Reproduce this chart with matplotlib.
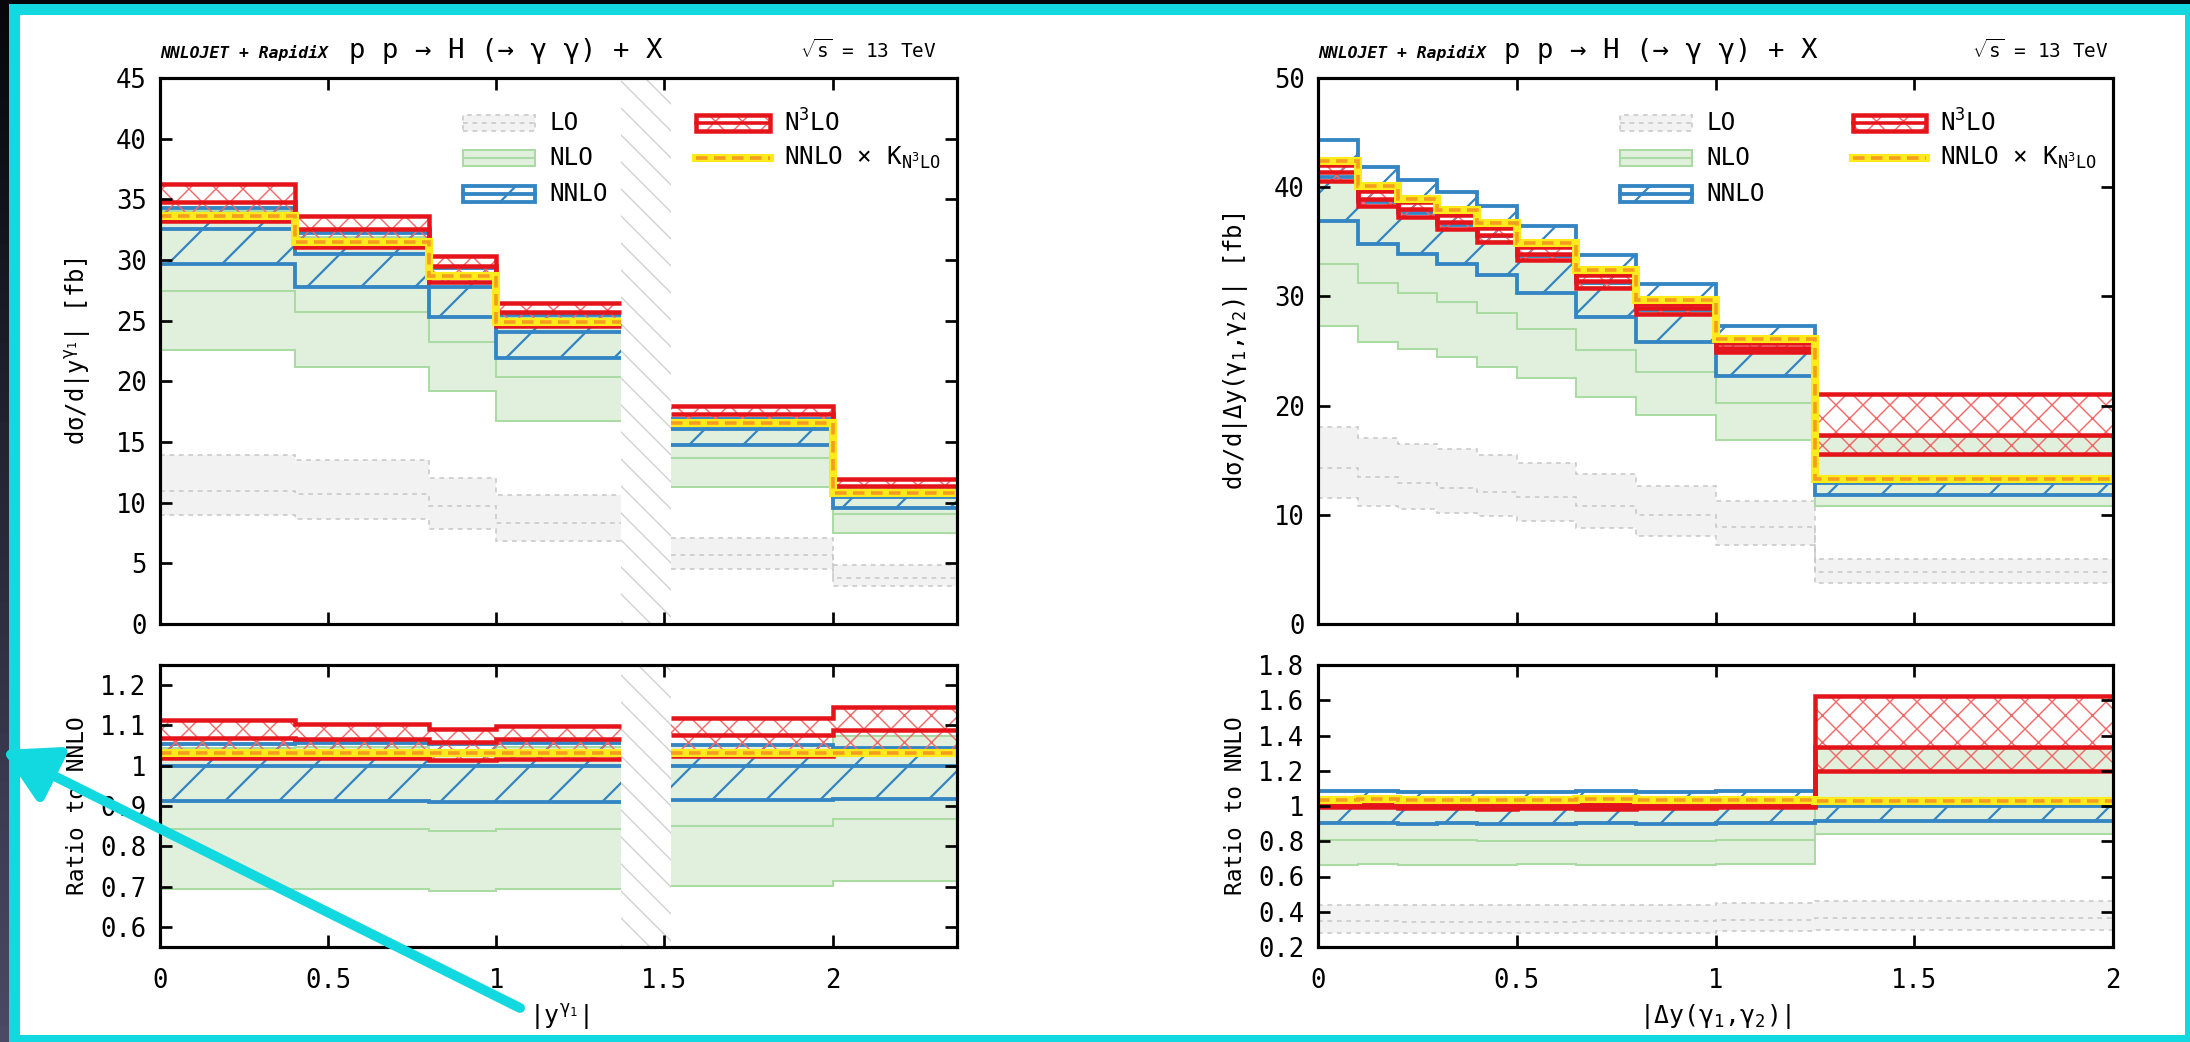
import numpy as np
import matplotlib
matplotlib.use("Agg")
import matplotlib.pyplot as plt
from matplotlib.patches import Rectangle, FancyArrowPatch
from matplotlib.ticker import FixedLocator, FuncFormatter
from matplotlib.colors import LinearSegmentedColormap

# ---------------- data: |y^gamma1| (left) ----------------
y1_bin_lo = [0.0, 0.4, 0.8, 1.0, 1.52, 2.0]
y1_bin_hi = [0.4, 0.8, 1.0, 1.37, 2.0, 2.37]
y1_gap = [1.37, 1.52]

y1_lo_up = [13.93, 13.55, 12.06, 10.6, 7.07, 4.87]
y1_lo_c = [11.0, 10.7, 9.7, 8.35, 5.65, 3.79]
y1_lo_dn = [8.95, 8.65, 7.8, 6.8, 4.5, 3.17]
y1_nlo_up = [34.0, 31.9, 28.9, 25.2, 16.9, 11.25]
y1_nlo_c = [27.47, 25.71, 23.28, 20.32, 13.68, 9.09]
y1_nlo_dn = [22.62, 21.2, 19.19, 16.75, 11.26, 7.48]
y1_nnlo_up = [34.3, 32.2, 29.32, 25.45, 16.92, 10.94]
y1_nnlo_c = [32.55, 30.5, 27.81, 24.1, 16.08, 10.47]
y1_nnlo_dn = [29.7, 27.8, 25.3, 21.95, 14.72, 9.6]
y1_n3lo_up = [36.23, 33.64, 30.31, 26.46, 17.98, 11.99]
y1_n3lo_c = [34.76, 32.54, 29.48, 25.69, 17.30, 11.39]
y1_n3lo_dn = [33.2, 31.11, 28.17, 24.53, 16.47, 10.78]
y1_nnlo_k = [33.59, 31.48, 28.7, 24.87, 16.59, 10.81]

# ---------------- data: |Delta y(gamma1, gamma2)| (right) ----------------
dy_bin_lo = [0.0, 0.1, 0.2, 0.3, 0.4, 0.5, 0.65, 0.8, 1.0, 1.25]
dy_bin_hi = [0.1, 0.2, 0.3, 0.4, 0.5, 0.65, 0.8, 1.0, 1.25, 2.0]

dy_lo_up = [18.04, 17.0, 16.5, 16.06, 15.5, 14.73, 13.76, 12.68, 11.3, 5.95]
dy_lo_c = [14.28, 13.5, 12.95, 12.5, 12.1, 11.6, 10.85, 9.95, 8.85, 4.72]
dy_lo_dn = [11.5, 10.85, 10.5, 10.2, 9.9, 9.4, 8.8, 8.1, 7.26, 3.8]
dy_nlo_up = [40.5, 38.2, 37.3, 36.2, 35.1, 33.3, 30.9, 28.5, 24.9, 17.12]
dy_nlo_c = [32.97, 31.2, 30.3, 29.47, 28.46, 27.0, 25.09, 23.04, 20.25, 15.4]
dy_nlo_dn = [27.3, 25.85, 25.15, 24.42, 23.56, 22.5, 20.8, 19.12, 16.88, 10.85]
dy_nnlo_up = [44.3, 41.85, 40.7, 39.55, 38.26, 36.43, 33.82, 31.13, 27.27, 13.0]
dy_nnlo_c = [40.9, 38.6, 37.65, 36.58, 35.5, 33.67, 31.22, 28.77, 25.15, 12.93]
dy_nnlo_dn = [36.9, 34.8, 33.9, 33.0, 31.92, 30.3, 28.15, 25.85, 22.7, 11.83]
dy_n3lo_up = [42.0, 39.65, 38.6, 37.5, 36.28, 34.5, 31.92, 29.29, 25.7, 21.02]
dy_n3lo_c = [41.4, 38.9, 37.96, 36.8, 35.66, 33.9, 31.37, 28.92, 25.3, 17.28]
dy_n3lo_dn = [40.6, 38.3, 37.3, 36.18, 34.95, 33.3, 30.76, 28.4, 24.94, 15.53]
dy_nnlo_k = [42.4, 40.1, 38.9, 37.87, 36.74, 34.9, 32.38, 29.69, 26.07, 13.32]

# ---------------- axis ticks / labels ----------------
y1_xticks = [0, 0.5, 1, 1.5, 2]
dy_xticks = [0, 0.5, 1, 1.5, 2]
y1_top_yticks = [0, 5, 10, 15, 20, 25, 30, 35, 40, 45]
dy_top_yticks = [0, 10, 20, 30, 40, 50]
y1_ratio_yticks = [0.6, 0.7, 0.8, 0.9, 1.0, 1.1, 1.2]
dy_ratio_yticks = [0.2, 0.4, 0.6, 0.8, 1.0, 1.2, 1.4, 1.6, 1.8]
legend_labels = ["LO", "NLO", "NNLO", r"N$^{3}$LO", r"NNLO × K$_{\mathrm{N^{3}LO}}$"]

# ---------------- styling ----------------
W, H, DPI = 2190, 1042, 324
plt.rcParams.update({
    "font.family": ["DejaVu Sans Mono", "DejaVu Sans"],
    "mathtext.fontset": "custom",
    "mathtext.rm": "DejaVu Sans Mono",
    "mathtext.it": "DejaVu Sans Mono:italic",
    "mathtext.bf": "DejaVu Sans Mono:bold",
    "mathtext.sf": "DejaVu Sans Mono",
    "hatch.linewidth": 0.4,
})

LO_FILL, LO_LINE = "#f2f2f2", "#c8c8c8"
NLO_FILL, NLO_LINE = "#e1f0dc", "#a9dba2"
BLUE = "#3485c3"
RED, RED_H = "#e5141b", "#f06a6a"
YEL, ORA = "#ffea1c", "#f59d1e"
GAP = "#cfcfcf"
CYAN = "#12d9e0"

H_NNLO = "//"
H_N3LO = "xxxx"
H_GAP = "\\\\\\\\"


def set_hlw(artist, lw):
    if hasattr(artist, "set_hatch_linewidth"):
        artist.set_hatch_linewidth(lw)


def segments(blo, bhi):
    segs, start = [], 0
    for i in range(1, len(blo) + 1):
        if i == len(blo) or not np.isclose(blo[i], bhi[i - 1]):
            segs.append((start, i))
            start = i
    return segs


def draw_data(ax, blo, bhi, d, ratio):
    ref = np.asarray(d["nnlo"][1], float)
    for s, e in segments(blo, bhi):
        edges = list(blo[s:e]) + [bhi[e - 1]]

        def v(a):
            a = np.asarray(a, float)[s:e]
            return a / ref[s:e] if ratio else a

        up, c, dn = d["lo"]
        ax.stairs(v(up), edges, baseline=v(dn), fill=True, facecolor=LO_FILL,
                  edgecolor="none", lw=0, zorder=1)
        for arr in (up, c, dn):
            ax.stairs(v(arr), edges, baseline=None, edgecolor=LO_LINE, lw=0.35,
                      linestyle=(0, (3, 3)), zorder=1.2)
        up, c, dn = d["nlo"]
        ax.stairs(v(up), edges, baseline=v(dn), fill=True, facecolor=NLO_FILL,
                  edgecolor="none", lw=0, zorder=1.5)
        for arr in (up, c, dn):
            ax.stairs(v(arr), edges, baseline=None, edgecolor=NLO_LINE, lw=0.45, zorder=1.7)
        up, c, dn = d["nnlo"]
        p = ax.stairs(v(up), edges, baseline=v(dn), fill=True, facecolor="none",
                      edgecolor=BLUE, hatch=H_NNLO, lw=0, zorder=3)
        set_hlw(p, 0.5)
        for arr in (up, c, dn):
            ax.stairs(v(arr), edges, baseline=None, edgecolor=BLUE, lw=0.85, zorder=3.5)
        up, c, dn = d["n3lo"]
        p = ax.stairs(v(up), edges, baseline=v(dn), fill=True, facecolor="none",
                      edgecolor=RED_H, hatch=H_N3LO, lw=0, zorder=4)
        set_hlw(p, 0.32)
        for arr in (up, c, dn):
            ax.stairs(v(arr), edges, baseline=None, edgecolor=RED, lw=1.0, zorder=4.5)
        k = d["k"]
        ax.stairs(v(k), edges, baseline=None, edgecolor=YEL, lw=1.8, zorder=5)
        ax.stairs(v(k), edges, baseline=None, edgecolor=ORA, lw=0.8,
                  linestyle=(0, (3.2, 1.8)), zorder=5.1)


fmt = FuncFormatter(lambda val, pos: f"{round(val, 3):g}")


def style_axes(ax, xlim, ylim, xticks, yticks, show_x):
    ax.set_xlim(xlim)
    ax.set_ylim(ylim)
    ax.xaxis.set_major_locator(FixedLocator(xticks))
    ax.yaxis.set_major_locator(FixedLocator(yticks))
    ax.xaxis.set_major_formatter(fmt)
    ax.yaxis.set_major_formatter(fmt)
    ax.tick_params(direction="in", top=True, right=True, length=2.7, width=0.6,
                   labelsize=5.7, pad=3)
    ax.tick_params(axis="x", pad=4.6, labelbottom=show_x)
    for sp in ax.spines.values():
        sp.set_linewidth(0.7)
        sp.set_zorder(10)
    ax.xaxis.set_zorder(10)
    ax.yaxis.set_zorder(10)


def draw_legend(ax):
    x1a, x1b, t1 = 0.380, 0.471, 0.489
    x2a, x2b, t2 = 0.673, 0.765, 0.783
    rows = [0.918, 0.853, 0.788]
    h = 0.029
    tr = ax.transAxes
    kw = dict(transform=tr, clip_on=False)
    # LO
    yc = rows[0]
    ax.add_patch(Rectangle((x1a, yc - h / 2), x1b - x1a, h, facecolor=LO_FILL, edgecolor=LO_LINE,
                           lw=0.35, ls=(0, (3, 3)), zorder=6, **kw))
    ax.plot([x1a, x1b], [yc, yc], color=LO_LINE, lw=0.35, ls=(0, (3, 3)), zorder=6, **kw)
    # NLO
    yc = rows[1]
    ax.add_patch(Rectangle((x1a, yc - h / 2), x1b - x1a, h, facecolor=NLO_FILL, edgecolor=NLO_LINE,
                           lw=0.45, zorder=6, **kw))
    ax.plot([x1a, x1b], [yc, yc], color=NLO_LINE, lw=0.45, zorder=6, **kw)
    # NNLO
    yc = rows[2]
    p = Rectangle((x1a, yc - h / 2), x1b - x1a, h, facecolor="none", edgecolor=BLUE,
                  hatch=H_NNLO, lw=0, zorder=6, **kw)
    set_hlw(p, 0.5)
    ax.add_patch(p)
    ax.add_patch(Rectangle((x1a, yc - h / 2), x1b - x1a, h, facecolor="none", edgecolor=BLUE,
                           lw=0.85, zorder=6.1, **kw))
    ax.plot([x1a, x1b], [yc, yc], color=BLUE, lw=0.85, zorder=6.1, **kw)
    # N3LO
    yc = rows[0]
    p = Rectangle((x2a, yc - h / 2), x2b - x2a, h, facecolor="none", edgecolor=RED_H,
                  hatch=H_N3LO, lw=0, zorder=6, **kw)
    set_hlw(p, 0.32)
    ax.add_patch(p)
    ax.add_patch(Rectangle((x2a, yc - h / 2), x2b - x2a, h, facecolor="none", edgecolor=RED,
                           lw=1.0, zorder=6.1, **kw))
    ax.plot([x2a, x2b], [yc, yc], color=RED, lw=0.8, zorder=6.1, **kw)
    # NNLO x K
    yc = rows[1]
    ax.plot([x2a, x2b], [yc, yc], color=YEL, lw=1.8, zorder=6, **kw)
    ax.plot([x2a, x2b], [yc, yc], color=ORA, lw=0.8, ls=(0, (3.2, 1.8)), zorder=6.1, **kw)
    for (tx, yc), lab in zip([(t1, rows[0]), (t1, rows[1]), (t1, rows[2]),
                              (t2, rows[0]), (t2, rows[1])], legend_labels):
        ax.text(tx, yc, lab, transform=tr, ha="left", va="center", fontsize=5.4, zorder=7)


def draw_title(ax, xproc, xsqrt):
    y = 1.037
    ax.text(0.0, y, "NNLOJET + RapidiX", transform=ax.transAxes, ha="left", va="baseline",
            fontsize=3.65, fontweight="bold", fontstyle="italic")
    ax.text(xproc, y, "p p → H (→ γ γ) + X", transform=ax.transAxes, ha="left",
            va="baseline", fontsize=6.1)
    ax.text(xsqrt, y, r"$\sqrt{\mathrm{s}}$ = 13 TeV", transform=ax.transAxes, ha="right",
            va="baseline", fontsize=4.3)


# ---------------- figure ----------------
fig = plt.figure(figsize=(W / DPI, H / DPI), dpi=DPI)
fig.patch.set_facecolor("#15152a")
bg = fig.add_axes([0, 0, 1, 1], zorder=-30)
bg.axis("off")
bg.imshow(np.linspace(0, 1, 64)[:, None],
          cmap=LinearSegmentedColormap.from_list("bg", ["#06060c", "#4a4a66"]),
          aspect="auto", extent=[0, 1, 0, 1], origin="upper")
fig.add_artist(Rectangle((9 / W, 0), (W - 9) / W, (H - 4) / H, transform=fig.transFigure,
                         facecolor=CYAN, edgecolor="none", zorder=-20))
fig.add_artist(Rectangle((20 / W, 7 / H), (2185 - 20) / W, (H - 15 - 7) / H,
                         transform=fig.transFigure, facecolor="white", edgecolor="none",
                         zorder=-10))

L_X0, L_W = 160 / W, 797 / W
R_X0, R_W = 1318 / W, 795 / W
TOP_B, TOP_H = (H - 624) / H, 546 / H
BOT_B, BOT_H = (H - 947) / H, 282 / H

ax_lt = fig.add_axes([L_X0, TOP_B, L_W, TOP_H])
ax_lb = fig.add_axes([L_X0, BOT_B, L_W, BOT_H])
ax_rt = fig.add_axes([R_X0, TOP_B, R_W, TOP_H])
ax_rb = fig.add_axes([R_X0, BOT_B, R_W, BOT_H])

y1_data = dict(lo=(y1_lo_up, y1_lo_c, y1_lo_dn), nlo=(y1_nlo_up, y1_nlo_c, y1_nlo_dn),
               nnlo=(y1_nnlo_up, y1_nnlo_c, y1_nnlo_dn),
               n3lo=(y1_n3lo_up, y1_n3lo_c, y1_n3lo_dn), k=y1_nnlo_k)
dy_data = dict(lo=(dy_lo_up, dy_lo_c, dy_lo_dn), nlo=(dy_nlo_up, dy_nlo_c, dy_nlo_dn),
               nnlo=(dy_nnlo_up, dy_nnlo_c, dy_nnlo_dn),
               n3lo=(dy_n3lo_up, dy_n3lo_c, dy_n3lo_dn), k=dy_nnlo_k)

draw_data(ax_lt, y1_bin_lo, y1_bin_hi, y1_data, False)
draw_data(ax_lb, y1_bin_lo, y1_bin_hi, y1_data, True)
draw_data(ax_rt, dy_bin_lo, dy_bin_hi, dy_data, False)
draw_data(ax_rb, dy_bin_lo, dy_bin_hi, dy_data, True)

for ax in (ax_lt, ax_lb):
    g = ax.axvspan(y1_gap[0], y1_gap[1], facecolor="white", edgecolor=GAP, hatch=H_GAP,
                   lw=0, zorder=0.8)
    set_hlw(g, 0.3)

style_axes(ax_lt, (0, 2.37), (0, 45), y1_xticks, y1_top_yticks, False)
style_axes(ax_lb, (0, 2.37), (0.55, 1.25), y1_xticks, y1_ratio_yticks, True)
style_axes(ax_rt, (0, 2.0), (0, 50), dy_xticks, dy_top_yticks, False)
style_axes(ax_rb, (0, 2.0), (0.2, 1.8), dy_xticks, dy_ratio_yticks, True)

draw_legend(ax_lt)
draw_legend(ax_rt)
draw_title(ax_lt, 0.237, 0.974)
draw_title(ax_rt, 0.234, 0.995)

lab_fs = 5.3
ax_lt.set_ylabel(r"dσ/d|y$^{\mathrm{γ_1}}$| [fb]", fontsize=lab_fs)
ax_rt.set_ylabel(r"dσ/d|Δy(γ$_{1}$,γ$_{2}$)| [fb]", fontsize=lab_fs)
ax_lb.set_ylabel("Ratio to NNLO", fontsize=5.1)
ax_rb.set_ylabel("Ratio to NNLO", fontsize=5.1)
for ax, w in ((ax_lt, 797), (ax_lb, 797), (ax_rt, 795), (ax_rb, 795)):
    ax.yaxis.label.set_va("center")
    ax.yaxis.set_label_coords(-82 / w, 0.5)
ax_lb.set_xlabel(r"|y$^{\mathrm{γ_1}}$|", fontsize=5.5)
ax_rb.set_xlabel(r"|Δy(γ$_{1}$,γ$_{2}$)|", fontsize=5.5)
for ax in (ax_lb, ax_rb):
    ax.xaxis.set_label_coords(0.5, -0.195)

arrow = FancyArrowPatch((520 / W, (H - 1008) / H), (2 / W, (H - 750) / H),
                        transform=fig.transFigure,
                        arrowstyle="-|>,head_length=0.5,head_width=0.28", mutation_scale=20,
                        color=CYAN, lw=2.2, shrinkA=0, shrinkB=0, zorder=50)
fig.add_artist(arrow)

fig.savefig("out.png", dpi=DPI)
